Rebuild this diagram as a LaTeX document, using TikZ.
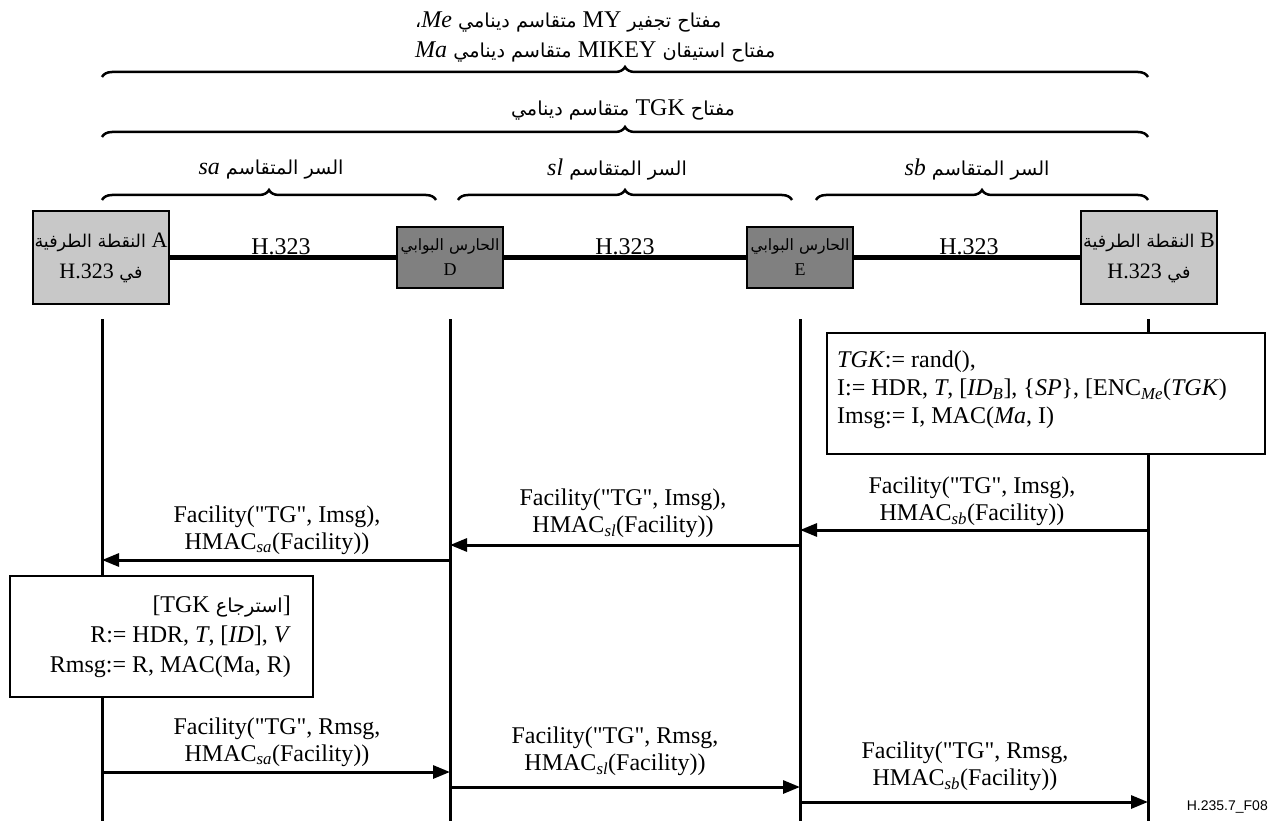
\documentclass[tikz,border=0pt]{standalone}
\usepackage{fontspec}
\setmainfont{Liberation Serif}
\newfontfamily\arabicfont[Script=Arabic,Scale=0.8]{DejaVu Sans}
\newfontfamily\figfont{Liberation Sans}
\TeXXeTstate=1
\usetikzlibrary{arrows.meta,decorations.pathreplacing,calc}
\definecolor{lightbox}{RGB}{200,200,200}
\definecolor{darkbox}{RGB}{128,128,128}
% Arabic run (right to left) and Latin run inside it
\newcommand\ar[1]{{\arabicfont\beginR #1\endR}}
\newcommand\latn[1]{{\normalfont #1}}
% straight double quote
\newcommand\qt{\textquotedbl}
\tikzset{
  every node/.style={font=\fontsize{24}{27}\selectfont, inner sep=0pt},
  endpt/.style={draw=black, line width=2pt, fill=lightbox, minimum width=136pt,
    minimum height=92pt, align=center, font=\fontsize{22}{31}\selectfont},
  gk/.style={draw=black, line width=2pt, fill=darkbox, minimum width=106pt,
    minimum height=61pt, align=center, font=\fontsize{18}{25}\selectfont},
  life/.style={line width=3pt},
  link/.style={line width=4.5pt},
  msg/.style={line width=3pt, -{Triangle[length=17pt,width=13pt]}},
  note/.style={draw=black, line width=2pt, fill=white},
  brc/.style={decorate, decoration={brace, amplitude=10pt}, line width=2.5pt},
  lbl/.style={align=center},
}
\begin{document}
\begin{tikzpicture}[x=1pt,y=-1pt]
\useasboundingbox (0,0) rectangle (1272,821);

% key hierarchy labels and braces
\node[anchor=west] (t1) at (415,22) {\ar{مفتاح تجفير \latn{MY} متقاسم دينامي \latn{\itshape Me}،}};
\node[anchor=west] (t2) at (415,52) {\ar{مفتاح استيقان \latn{MIKEY} متقاسم دينامي \latn{\itshape Ma}}};
\draw[brc] (102,77) -- (1148,77);
\node (tgk) at (623,110) {\ar{مفتاح \latn{TGK} متقاسم دينامي}};
\draw[brc] (102,137) -- (1148,137);
\node (ssa) at (271,170) {\ar{السر المتقاسم \latn{\itshape sa}}};
\node (ssl) at (617,170) {\ar{السر المتقاسم \latn{\itshape sl}}};
\node (ssb) at (977,170) {\ar{السر المتقاسم \latn{\itshape sb}}};
\draw[brc] (102,200) -- (436,200);
\draw[brc] (458,200) -- (792,200);
\draw[brc] (816,200) -- (1148,200);

% entities
\node[endpt] (A) at (101,257.5) {\ar{\latn{A} النقطة الطرفية}\\ \ar{في \latn{H.323}}};
\node[gk] (D) at (450,257.5) {{\fontsize{19.5}{25}\selectfont\ar{الحارس البوابي}}\\ D};
\node[gk] (E) at (800,257.5) {{\fontsize{19.5}{25}\selectfont\ar{الحارس البوابي}}\\ E};
\node[endpt] (B) at (1149,257.5) {\ar{\latn{B} النقطة الطرفية}\\ \ar{في \latn{H.323}}};
\draw[link] (A.east) -- (D.west);
\draw[link] (D.east) -- (E.west);
\draw[link] (E.east) -- (B.west);
\node (h1) at (281,247) {H.323};
\node (h2) at (625,247) {H.323};
\node (h3) at (969,247) {H.323};

% lifelines
\coordinate (Atop) at (102,319);  \coordinate (Abot) at (102,821);
\coordinate (Dtop) at (450,319);  \coordinate (Dbot) at (450,821);
\coordinate (Etop) at (800,319);  \coordinate (Ebot) at (800,821);
\coordinate (Btop) at (1148,319); \coordinate (Bbot) at (1148,821);
\draw[life] (Atop) -- (Abot);
\draw[life] (Dtop) -- (Dbot);
\draw[life] (Etop) -- (Ebot);
\draw[life] (Btop) -- (Bbot);

% TGK generation at B
\node[note, minimum width=438pt, minimum height=121pt] (gen) at (1046,393.5) {};
\node[anchor=north west, align=left, font=\fontsize{24}{28}\selectfont] (gentext) at (837,351)
  {\textit{TGK}:= rand(),\\
   I:= HDR, \textit{T}, [\textit{ID}\textsubscript{\textit{B}}], \{\textit{SP}\}, [ENC\textsubscript{\textit{Me}}(\textit{TGK})\\
   Imsg:= I, MAC(\textit{Ma}, I)};

% Imsg towards A
\coordinate (m1s) at (1148,530); \coordinate (m1e) at (800,530);
\coordinate (m2s) at (800,545);  \coordinate (m2e) at (450,545);
\coordinate (m3s) at (450,560);  \coordinate (m3e) at (102,560);
\draw[msg] (m1s) -- (m1e);
\draw[msg] (m2s) -- (m2e);
\draw[msg] (m3s) -- (m3e);
\node[lbl] (l1) at (972,501.5) {Facility(\qt TG\qt, Imsg),\\HMAC\textsubscript{\textit{sb}}(Facility))};
\node[lbl] (l2) at (623,513.5) {Facility(\qt TG\qt, Imsg),\\HMAC\textsubscript{\textit{sl}}(Facility))};
\node[lbl] (l3) at (277,530) {Facility(\qt TG\qt, Imsg),\\HMAC\textsubscript{\textit{sa}}(Facility))};

% TGK retrieval at A
\node[note, minimum width=303pt, minimum height=121pt] (ret) at (161.5,636.5) {};
\node[anchor=east, align=right, font=\fontsize{24}{30}\selectfont] (rettext) at (291,636.5)
  {[TGK \ar{استرجاع}]\\
   R:= HDR, \textit{T}, [\textit{ID}], \textit{V}\\
   Rmsg:= R, MAC(Ma, R)};

% Rmsg towards B
\coordinate (r1s) at (102,772);  \coordinate (r1e) at (450,772);
\coordinate (r2s) at (450,787);  \coordinate (r2e) at (800,787);
\coordinate (r3s) at (800,802);  \coordinate (r3e) at (1148,802);
\draw[msg] (r1s) -- (r1e);
\draw[msg] (r2s) -- (r2e);
\draw[msg] (r3s) -- (r3e);
\node[lbl] (k1) at (277,742) {Facility(\qt TG\qt, Rmsg,\\HMAC\textsubscript{\textit{sa}}(Facility))};
\node[lbl] (k2) at (615,751.5) {Facility(\qt TG\qt, Rmsg,\\HMAC\textsubscript{\textit{sl}}(Facility))};
\node[lbl] (k3) at (965,766.5) {Facility(\qt TG\qt, Rmsg,\\HMAC\textsubscript{\textit{sb}}(Facility))};

\node[anchor=east, font=\figfont\fontsize{14}{16}\selectfont] (fig) at (1268,807) {H.235.7\_F08};
\end{tikzpicture}
\end{document}
